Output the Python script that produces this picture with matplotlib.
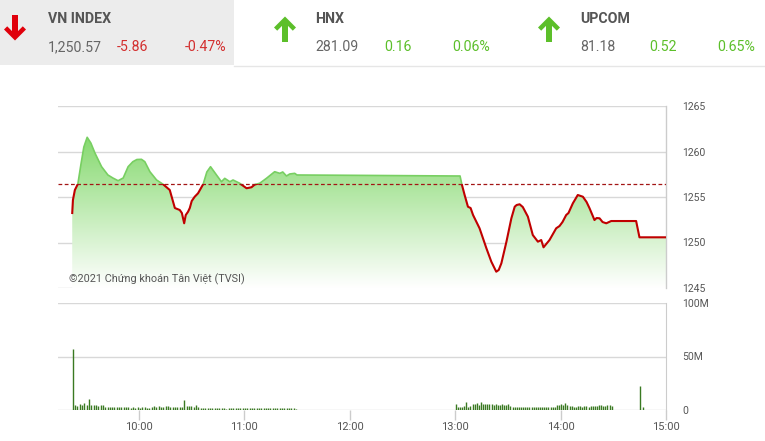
import numpy as np
import matplotlib
matplotlib.use("Agg")
import matplotlib.pyplot as plt
from matplotlib.patches import Polygon, Rectangle
from matplotlib.colors import to_rgb

# ---------------- data ----------------
prev_close = 1256.43

# intraday VN-Index: minutes after 09:00, index value
line_min = [22.1, 22.5, 23.6, 25.3, 27.0, 28.7, 30.6, 32.7, 35.0, 38.8, 42.4, 45.2, 48.2,
            51.1, 53.9, 56.6, 58.9, 61.5, 63.4, 66.3, 70.1, 73.8, 77.6, 80.5, 83.3, 84.5,
            85.8, 86.7, 88.0, 89.0, 90.1, 91.8, 93.7, 96.6, 98.7, 100.8, 104.2, 107.0,
            108.9, 111.8, 113.6, 117.4, 121.3, 124.1, 126.0, 128.8, 132.6, 137.3, 140.2,
            141.9, 144.0, 145.9, 148.7, 150.0,
            240.0, 242.8, 243.9, 245.4, 247.3, 248.8, 250.2, 253.9, 257.8, 260.6, 263.4,
            264.8, 266.3, 269.2, 272.0, 273.9, 275.0, 276.7, 278.5, 281.4, 284.2, 287.1,
            289.0, 290.3, 293.7, 297.5, 299.4, 301.1, 303.2, 304.5, 307.0, 309.8, 312.7,
            314.8, 316.5, 319.3, 320.5, 322.2, 323.9, 326.0, 328.8, 343.0, 344.9, 360.0]
line_val = [1253.24, 1254.67, 1255.77, 1256.43, 1258.52, 1260.49, 1261.56, 1260.93, 1259.84,
            1258.33, 1257.42, 1257.09, 1256.79, 1257.09, 1258.33, 1258.88, 1259.12, 1259.14,
            1258.88, 1257.78, 1256.87, 1256.40, 1255.77, 1253.79, 1253.57, 1253.24, 1252.11,
            1253.02, 1253.38, 1253.79, 1254.56, 1255.03, 1255.41, 1256.40, 1257.75, 1258.33,
            1257.42, 1256.68, 1257.05, 1256.68, 1256.87, 1256.51, 1255.96, 1256.07, 1256.37,
            1256.51, 1257.05, 1257.78, 1257.60, 1257.75, 1257.31, 1257.53, 1257.60, 1257.42,
            1257.31, 1257.31, 1256.32, 1255.22, 1253.93, 1253.79, 1253.02, 1251.56, 1249.36,
            1247.89, 1246.79, 1246.98, 1247.71, 1250.09, 1252.66, 1253.93, 1254.12, 1254.20,
            1253.90, 1252.84, 1250.82, 1250.09, 1250.27, 1249.47, 1250.27, 1251.56, 1251.81,
            1252.25, 1253.02, 1253.24, 1254.31, 1255.22, 1255.03, 1254.45, 1253.76, 1252.47,
            1252.69, 1252.66, 1252.25, 1252.11, 1252.36, 1252.36, 1250.57, 1250.57]

# matched volume per interval (millions of shares)
vol_am_start, vol_am_step = 22.3, 1.325
vol_am = [57, 4.5, 3.5, 6, 4.5, 6.5, 4.5, 10, 5, 5, 4.5, 4, 5, 4.5, 3, 2.5, 2.5, 2.5, 3, 2.5,
          2.5, 2.5, 2.5, 2.5, 2.5, 2, 2.5, 2, 2.5, 2, 2.5, 2.5, 2, 2, 2.5, 3.5, 2.5, 3.5, 3, 3,
          4, 3.5, 2.5, 3, 2.5, 2.5, 2.5, 3, 9, 4, 3.5, 4, 3, 4.5, 3, 2, 1.5, 1.5, 2, 1.5,
          1.5, 1.5, 1.5, 1.5, 1.5, 1.5, 1, 1.5, 1.5, 1.5, 1.5, 1.5, 1.5, 1.5, 1.5, 1.5, 1.5, 1.5,
          1.5, 1.5, 1.5, 1.5, 1.5, 1.5, 1.5, 1.5, 1.5, 1.5, 1.5, 1.5, 1.5, 1.5, 1.5, 1.5, 1.5, 1.5, 1]
vol_pm_start, vol_pm_step = 240.3, 1.2
vol_pm = [6, 2.5, 2.5, 3, 3.5, 7.5, 3, 4, 5.5, 6, 7, 4.5, 7.5, 5.5, 5.5, 5.5, 5.5, 5.5, 5, 5.5,
          5, 5, 6, 4.5, 5, 6, 3.5, 3, 3, 3, 3, 3, 2.5, 2.5, 3, 3, 3, 3, 3, 3, 3, 2.5, 3, 3, 3,
          3, 2.5, 3, 4.5, 5, 6, 5, 6.5, 4.5, 4, 3.5, 3, 3, 4, 3.5, 3, 3.5, 4, 3, 4, 3.5, 4, 4,
          4.5, 4.5, 4, 4, 4.5, 4.5, 4]
vol_atc_min = [345.0, 346.8]
vol_atc = [22, 3]

x_ticks = [60, 120, 180, 240, 300, 360]
x_tick_labels = ["10:00", "11:00", "12:00", "13:00", "14:00", "15:00"]
y_ticks = [1245, 1250, 1255, 1260, 1265]
v_ticks = [0, 50, 100]
v_tick_labels = ["0", "50M", "100M"]

header = [
    # name, value, change, pct, up?
    ("VN INDEX", "1,250.57", "-5.86", "-0.47%", False),
    ("HNX", "281.09", "0.16", "0.06%", True),
    ("UPCOM", "81.18", "0.52", "0.65%", True),
]

# ---------------- figure ----------------
W, H = 765, 441
fig = plt.figure(figsize=(W / 100, H / 100), dpi=100)
fig.patch.set_facecolor("white")
FONT = ["Roboto", "DejaVu Sans"]
plt.rcParams["font.family"] = FONT

# overlay in pixel coordinates for header
hdr = fig.add_axes([0, 0, 1, 1])
hdr.set_xlim(0, W)
hdr.set_ylim(H, 0)
hdr.axis("off")
hdr.add_patch(Rectangle((0, 0), 234, 65, facecolor="#ececec", edgecolor="none"))
hdr.plot([234, W], [66, 66], color="#e6e6e6", lw=1)

RED = "#e0000b"
GRN = "#5cbf2a"
block_x = [48, 315, 580]
arrow_x = [15, 285, 549]
num_dx = [0, 69, 137]


def arrow(cx, up, color):
    pts = [(0, 13), (-11, 2), (-7.8, -1.2), (-3, 3.6), (-3, -12.5), (3, -12.5),
           (3, 3.6), (7.8, -1.2), (11, 2)]
    cy = 27.5 if not up else 29.5
    s = 1 if not up else -1
    verts = [(cx + px, cy + s * py) for px, py in pts]
    hdr.add_patch(Polygon(verts, closed=True, facecolor=color, edgecolor="none"))


for (name, val, chg, pct, up), bx, ax_, in zip(header, block_x, arrow_x):
    col = GRN if up else RED
    arrow(ax_, up, col)
    hdr.text(bx, 19, name, fontsize=10.2, fontweight="bold", color="#555555",
             ha="left", va="center")
    hdr.text(bx, 47, val, fontsize=10.2, color="#666666", ha="left", va="center")
    hdr.text(bx + num_dx[1], 47, chg, fontsize=10.2, color=col if up else "#d32f2f",
             ha="left", va="center")
    hdr.text(bx + num_dx[2], 47, pct, fontsize=10.2, color=col if up else "#d32f2f",
             ha="left", va="center")

# ---------------- price panel ----------------
L, R = 58, 666
ax = fig.add_axes([L / W, (H - 288) / H, (R - L) / W, (288 - 106) / H])
xmin, xmax = 14, 360
ymin, ymax = 1245, 1265
ax.set_xlim(xmin, xmax)
ax.set_ylim(ymin, ymax)
for s in ["left", "top", "bottom"]:
    ax.spines[s].set_visible(False)
ax.spines["right"].set_color("#cccccc")
ax.spines["right"].set_linewidth(1)
ax.yaxis.tick_right()
ax.set_yticks(y_ticks)
ax.set_yticklabels([str(v) for v in y_ticks])
ax.tick_params(axis="y", length=0, pad=11.5, labelsize=7.5, labelcolor="#555555")
ax.set_xticks([])
for yv in y_ticks:
    ax.axhline(yv, color="#d8d8d8", lw=1, zorder=0)

t = np.array(line_min)
v = np.array(line_val)

# gradient fill under the line
top_c = np.array(to_rgb("#7fd767"))
bot_c = np.array(to_rgb("#ffffff"))
n = 256
fr = np.linspace(0, 1, n)[:, None]
grad = bot_c[None, :] * (1 - fr) + top_c[None, :] * fr
grad = grad[:, None, :]
img = ax.imshow(grad, extent=[xmin, xmax, ymin, 1262.5], origin="lower", aspect="auto",
                zorder=1, interpolation="bilinear")
verts = [(t[0], ymin)] + list(zip(t, v)) + [(t[-1], ymin)]
clip = Polygon(verts, closed=True, facecolor="none", edgecolor="none", transform=ax.transData)
ax.add_patch(clip)
img.set_clip_path(clip)
ax.set_xlim(xmin, xmax)
ax.set_ylim(ymin, ymax)

# line: green above previous close, red below
ln_g, = ax.plot(t, v, color="#78cf62", lw=1.2, zorder=3)
ln_r, = ax.plot(t, v, color="#c00000", lw=1.5, zorder=4)
clip_above = Rectangle((xmin, prev_close), xmax - xmin, ymax - prev_close, transform=ax.transData,
                       facecolor="none", edgecolor="none")
clip_below = Rectangle((xmin, ymin - 5), xmax - xmin, prev_close - ymin + 5, transform=ax.transData,
                       facecolor="none", edgecolor="none")
ax.add_patch(clip_above)
ax.add_patch(clip_below)
ln_g.set_clip_path(clip_above)
ln_r.set_clip_path(clip_below)

ax.axhline(prev_close, color="#a31515", lw=0.9, ls=(0, (3, 2)), zorder=5)
ax.text(20.5, 1245.95, "©2021 Chứng khoán Tân Việt (TVSI)", fontsize=7.8, color="#555555",
        ha="left", va="center", zorder=6, family=["Roboto", "DejaVu Sans"])

# ---------------- volume panel ----------------
ax2 = fig.add_axes([L / W, (H - 410) / H, (R - L) / W, (410 - 303) / H])
ax2.set_xlim(xmin, xmax)
ax2.set_ylim(0, 100)
for s in ["left", "top", "bottom"]:
    ax2.spines[s].set_visible(False)
ax2.spines["right"].set_color("#cccccc")
for yv in v_ticks:
    ax2.axhline(yv, color="#d8d8d8", lw=1, zorder=0)
ax2.yaxis.tick_right()
ax2.set_yticks(v_ticks)
ax2.set_yticklabels(v_tick_labels)
ax2.tick_params(axis="y", length=0, pad=11.5, labelsize=7.5, labelcolor="#555555")
ax2.set_xticks(x_ticks)
ax2.set_xticklabels(x_tick_labels)
ax2.tick_params(axis="x", length=7, width=1, color="#cccccc", pad=2, labelsize=8,
                labelcolor="#555555")

am_t = vol_am_start + vol_am_step * np.arange(len(vol_am))
pm_t = vol_pm_start + vol_pm_step * np.arange(len(vol_pm))
all_t = np.concatenate([am_t, pm_t, vol_atc_min])
all_v = np.concatenate([vol_am, vol_pm, vol_atc])
ax2.vlines(all_t, 0, all_v, color="#3a7a22", lw=1.0, zorder=3)

fig.savefig("out.png", dpi=100, facecolor="white")
